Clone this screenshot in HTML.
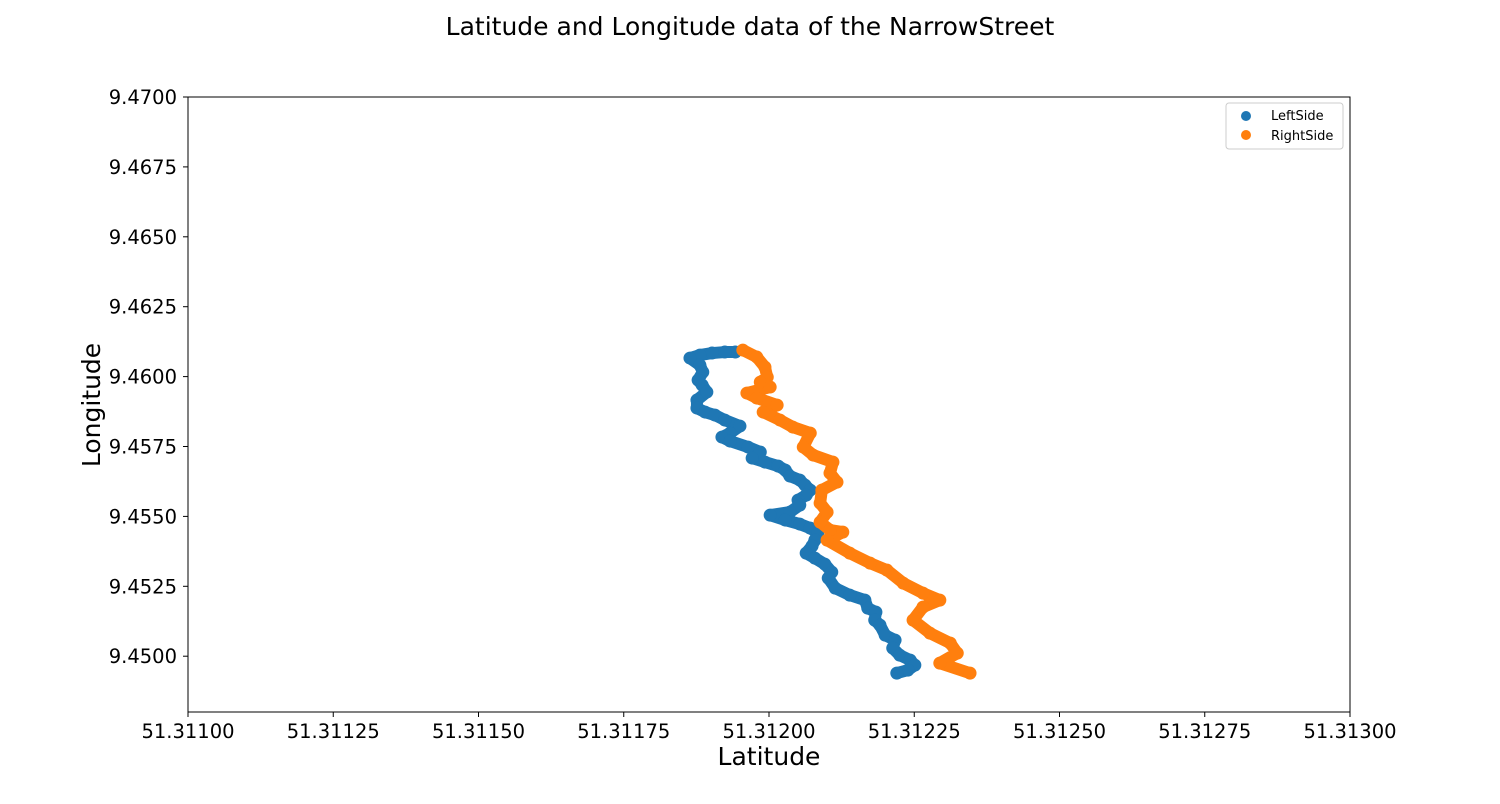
<!DOCTYPE html>
<html><head><meta charset="utf-8"><style>
body{margin:0;background:#fff;font-family:"DejaVu Sans","Liberation Sans",sans-serif}
</style></head><body>
<svg id="chart" width="1500" height="800" xmlns="http://www.w3.org/2000/svg" font-family="DejaVu Sans, Liberation Sans, sans-serif">
<rect width="1500" height="800" fill="#fff"/>
<text x="750" y="35" text-anchor="middle" font-size="25">Latitude and Longitude data of the NarrowStreet</text>
<g id="marks"></g>
<rect x="188" y="97" width="1162" height="615" fill="none" stroke="#000" stroke-width="1"/>
<g id="xticks"></g><g id="yticks"></g>
<text x="769" y="765" text-anchor="middle" font-size="25">Latitude</text>
<text transform="translate(100,405) rotate(-90)" text-anchor="middle" font-size="25">Longitude</text>
<g>
<rect x="1226" y="103" width="117" height="46" rx="3" fill="#fff" stroke="#ccc"/>
<circle cx="1246" cy="116" r="5" fill="#1f77b4"/>
<text x="1271" y="120" font-size="13">LeftSide</text>
<circle cx="1246" cy="135" r="5" fill="#ff7f0e"/>
<text x="1271" y="140" font-size="13">RightSide</text>
</g>
</svg>
<script>
const xTicks=[51.311,51.31125,51.3115,51.31175,51.312,51.31225,51.3125,51.31275,51.313];
const xTickLabels=["51.31100","51.31125","51.31150","51.31175","51.31200","51.31225","51.31250","51.31275","51.31300"];
const yTicks=[9.47,9.4675,9.465,9.4625,9.46,9.4575,9.455,9.4525,9.45];
const yTickLabels=["9.4700","9.4675","9.4650","9.4625","9.4600","9.4575","9.4550","9.4525","9.4500"];
const leftLat=[51.311942,51.311924,51.311902,51.311881,51.311864,51.311881,51.311886,51.311878,51.311885,51.311893,51.311876,51.311876,51.311890,51.311907,51.311924,51.311950,51.311933,51.311919,51.311933,51.311964,51.311985,51.311971,51.311993,51.312016,51.312028,51.312036,51.312053,51.312062,51.312071,51.312064,51.312050,51.312053,51.312036,51.312002,51.312028,51.312053,51.312071,51.312084,51.312079,51.312074,51.312064,51.312079,51.312096,51.312108,51.312102,51.312114,51.312139,51.312165,51.312170,51.312184,51.312182,51.312191,51.312200,51.312217,51.312213,51.312225,51.312243,51.312251,51.312239,51.312220];
const leftLon=[9.460878,9.460878,9.460842,9.460770,9.460663,9.460413,9.460162,9.459876,9.459697,9.459447,9.459161,9.458874,9.458731,9.458624,9.458445,9.458230,9.457980,9.457837,9.457694,9.457479,9.457300,9.457086,9.456943,9.456799,9.456656,9.456442,9.456299,9.456120,9.455941,9.455762,9.455583,9.455404,9.455154,9.455046,9.454868,9.454725,9.454581,9.454403,9.454152,9.453937,9.453687,9.453508,9.453294,9.453007,9.452793,9.452435,9.452185,9.452006,9.451720,9.451576,9.451290,9.451111,9.450754,9.450575,9.450289,9.450038,9.449859,9.449680,9.449502,9.449394];
const rightLat=[51.311955,51.311979,51.311993,51.311997,51.311985,51.312002,51.311962,51.311979,51.312014,51.311990,51.312019,51.312041,51.312071,51.312059,51.312076,51.312110,51.312105,51.312117,51.312091,51.312088,51.312100,51.312088,51.312105,51.312127,51.312100,51.312139,51.312174,51.312203,51.312231,51.312265,51.312294,51.312265,51.312248,51.312277,51.312312,51.312324,51.312294,51.312346];
const rightLon=[9.460949,9.460699,9.460341,9.459983,9.459804,9.459626,9.459411,9.459232,9.458982,9.458731,9.458445,9.458195,9.457980,9.457479,9.457193,9.456943,9.456549,9.456227,9.455941,9.455476,9.455154,9.454796,9.454510,9.454438,9.454152,9.453687,9.453329,9.453079,9.452614,9.452256,9.452006,9.451755,9.451290,9.450825,9.450467,9.450110,9.449752,9.449394];
const NS="http://www.w3.org/2000/svg";
function xs(v){return 188+(v-51.311)/0.002*1162;}
function ys(v){return 97+(9.47-v)/0.0025*69.9;}
const xg=document.getElementById('xticks'),yg=document.getElementById('yticks'),mg=document.getElementById('marks');
xTicks.forEach((t,i)=>{
 const l=document.createElementNS(NS,'line');
 
 
 l.setAttribute('x1',xs(t));l.setAttribute('x2',xs(t));l.setAttribute('y1',712);l.setAttribute('y2',717);l.setAttribute('stroke','#000');xg.appendChild(l);
 const tx=document.createElementNS(NS,'text');
 
 
 tx.setAttribute('x',xs(t));tx.setAttribute('y',738);tx.setAttribute('text-anchor','middle');tx.setAttribute('font-size','19.5');tx.textContent=xTickLabels[i];xg.appendChild(tx);
});
yTicks.forEach((t,i)=>{
 const l=document.createElementNS(NS,'line');
 
 
 l.setAttribute('x1',183);l.setAttribute('x2',188);l.setAttribute('y1',ys(t));l.setAttribute('y2',ys(t));l.setAttribute('stroke','#000');yg.appendChild(l);
 const tx=document.createElementNS(NS,'text');
 
 
 tx.setAttribute('x',177);tx.setAttribute('y',ys(t)+7);tx.setAttribute('text-anchor','end');tx.setAttribute('font-size','19.5');tx.textContent=yTickLabels[i];yg.appendChild(tx);
});
function series(lat,lon,color,name){
 const g=document.createElementNS(NS,'g');
 
 
 const p=document.createElementNS(NS,'polyline');
 
 
 p.setAttribute('points',lat.map((v,i)=>xs(v)+','+ys(lon[i])).join(' '));
 p.setAttribute('fill','none');p.setAttribute('stroke',color);p.setAttribute('stroke-width','12');p.setAttribute('stroke-linejoin','round');p.setAttribute('stroke-linecap','round');
 g.appendChild(p);
 lat.forEach((v,i)=>{
  const c=document.createElementNS(NS,'circle');
  
  
  c.setAttribute('cx',xs(v));c.setAttribute('cy',ys(lon[i]));c.setAttribute('r','6.5');c.setAttribute('fill',color);g.appendChild(c);
 });
 mg.appendChild(g);
}
series(leftLat,leftLon,'#1f77b4','leftside-series');
series(rightLat,rightLon,'#ff7f0e','rightside-series');
</script>
</body></html>
